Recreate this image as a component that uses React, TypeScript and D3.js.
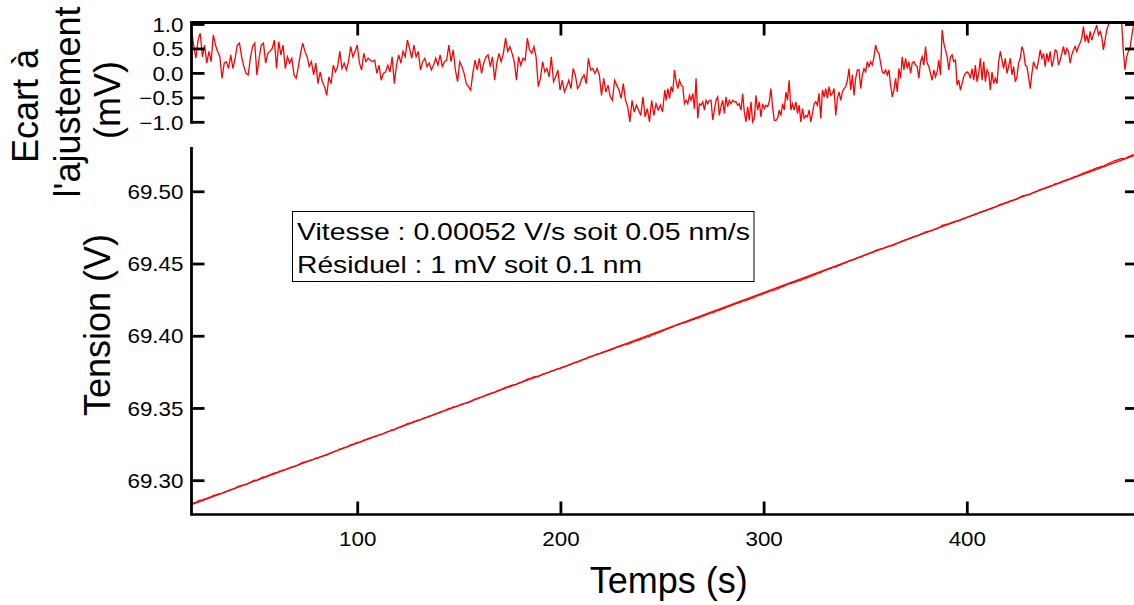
import React from 'react';
import * as d3 from 'd3';

// Residual (mV), first half of the record, uniformly sampled between segA times
const residualA = [
  0.89, 0.58, 0.31, 0.68, 0.82, 0.34, 0.58, 0.21, 0.45, 0.24, 0.79, 0.58, 0.45, 0.34, -0.10, 0.21,
  0.24, 0.10, 0.38, 0.10, 0.31, 0.58, 0.62, 0.34, 0.14, 0.00, -0.03, 0.31, 0.55, 0.62, -0.03, 0.31,
  0.58, 0.62, 0.21, 0.41, 0.45, 0.51, 0.68, 0.10, 0.65, 0.38, 0.58, 0.10, 0.34, 0.21, 0.31, -0.03,
  -0.10, 0.14, 0.41, 0.62, 0.45, 0.34, 0.14, 0.24, -0.03, 0.21, -0.21, 0.03, -0.17, -0.27, -0.45, -0.07,
  -0.21, 0.17, 0.03, 0.14, 0.45, 0.10, 0.21, 0.07, 0.24, 0.55, 0.34, 0.45, 0.58, 0.21, 0.07, 0.41,
  0.24, 0.31, 0.27, 0.24, 0.27, 0.00, 0.17, -0.14, 0.00, 0.03, 0.17, 0.03, 0.34, -0.21, 0.17, 0.38,
  0.21, 0.45, 0.34, 0.68, 0.51, 0.31, 0.58, 0.34, 0.45, 0.07, 0.24, 0.31, 0.14, 0.21, 0.07, 0.17,
  0.31, 0.17, 0.38, 0.14, 0.24, 0.27, 0.58, 0.24, 0.48, 0.07, -0.17, 0.24, 0.14, 0.00, -0.21, -0.27,
  -0.34, 0.00, 0.27, 0.07, 0.31, 0.00, 0.21, 0.34, 0.38, 0.14, 0.34, -0.14, 0.21, 0.41, 0.24, 0.41,
  0.72, 0.45, 0.55, 0.41, 0.24, -0.14, 0.34, 0.17, 0.31, 0.27, 0.72, 0.48, 0.41, 0.55, 0.34, -0.27,
  -0.10, 0.24, 0.03, 0.10, -0.07, 0.34, -0.17, -0.07, 0.07, -0.34, -0.14, -0.38, -0.27, -0.14, -0.31, 0.10,
  -0.03, -0.31, -0.24, -0.10, -0.03, -0.21, 0.31, 0.07, 0.10, 0.00, 0.10, -0.03, -0.45, -0.10, -0.38, -0.24,
  -0.48, -0.55, -0.14, -0.24, -0.34, -0.51, -0.21, -0.55, -0.68, -0.99, -0.55, -0.79, -0.65, -0.75, -0.86, -0.48,
  -0.89, -0.72, -0.99, -0.55, -0.86, -0.62, -0.75, -0.65, -0.79, -0.34,
];

// Residual (mV), second half of the record, uniformly sampled between segB times
const residualB = [
  -0.55, -0.31, -0.51, -0.27, -0.38, 0.07, -0.17, -0.31, -0.14, -0.24, -0.27, -0.62, -0.55, -0.62, -0.45, -0.55,
  -0.41, -0.72, -0.10, -0.92, -0.62, -0.65, -0.58, -0.75, -0.55, -0.62, -0.55, -0.55, -0.95, -0.75, -0.55, -0.48,
  -0.86, -0.68, -0.55, -0.82, -0.48, -0.68, -0.55, -0.62, -0.55, -0.58, -0.58, -0.65, -0.62, -0.75, -0.41, -0.79,
  -0.99, -0.68, -0.96, -0.58, -0.99, -0.92, -0.45, -0.75, -0.58, -0.89, -0.62, -0.72, -0.65, -0.68, -0.58, -0.31,
  -0.68, -0.96, -0.96, -0.92, -0.75, -0.86, -0.62, -0.75, -0.38, -0.55, -0.14, -0.75, -0.62, -0.75, -0.58, -0.82,
  -0.65, -0.99, -0.72, -0.92, -0.86, -0.89, -0.75, -0.99, -0.82, -0.62, -0.58, -0.65, -0.41, -0.92, -0.34, -0.48,
  -0.31, -0.51, -0.27, -0.45, -0.41, -0.31, -0.86, -0.51, -0.38, -0.55, -0.38, -0.31, -0.27, -0.14, 0.10, -0.34,
  -0.03, -0.45, -0.10, 0.07, 0.07, -0.31, -0.03, 0.10, 0.03, 0.24, 0.14, 0.24, 0.17, 0.34, 0.58, 0.45,
  0.41, 0.21, 0.03, 0.00, 0.07, -0.03, 0.07, -0.24, -0.48, -0.34, -0.10, -0.38, 0.10, -0.10, 0.34, 0.07,
  0.31, 0.10, 0.24, 0.00, 0.21, 0.24, 0.17, 0.14, -0.10, 0.24, 0.34, 0.17, 0.55, 0.21, 0.14, 0.00,
  -0.14, 0.07, -0.07, 0.03, 0.27, -0.03, 0.89, 0.62, 0.48, 0.34, 0.07, 0.34, 0.38, 0.24, 0.27, -0.24,
  -0.14, -0.34, -0.21, -0.07, 0.00, 0.03, 0.00, -0.10, 0.10, -0.14, 0.17, -0.17, 0.00, 0.31, -0.14, 0.24,
  -0.17, 0.07, 0.00, -0.34, 0.03, -0.21, -0.10, -0.21, 0.24, 0.45, 0.27, 0.10, 0.31, 0.00, 0.14, 0.31,
  -0.03, 0.14, -0.17, -0.07, 0.21, 0.31, 0.55, 0.45, 0.17, 0.14, -0.07, -0.31, 0.00, 0.24, 0.14, 0.10,
  0.27, 0.48, 0.31, 0.41, 0.14, 0.41, 0.24, 0.45, 0.14, 0.27, 0.48, 0.45, 0.17, 0.27, 0.41, 0.55,
  0.38, 0.51, 0.45, 0.21, 0.38, 0.48, 0.55, 0.45, 0.55, 0.62, 0.72, 0.96, 0.65, 0.79, 0.62, 0.86,
  0.68, 0.79, 0.89, 0.99, 0.79, 0.86, 0.75, 0.48, 0.68, 0.89, 0.99, 1.06, 1.2, 1.3, 1.3, 1.25,
  1.2, 1.15, 1.03, 0.45, 0.07, 0.34, 0.45, 0.51, 0.75, 0.96,
];

const segA = [18.2, 251.1];
const segB = [251.8, 481.7];

// Linear fit of the voltage (V) vs time (s)
const fitIntercept = 69.274;
const fitSlope = 0.000521;

const xTicks = [100, 200, 300, 400];
const yTicksMain = [69.3, 69.35, 69.4, 69.45, 69.5];
const yTicksRes = [-1.0, -0.5, 0.0, 0.5, 1.0];

const xDomain = [18.2, 484];
const yDomainMain = [69.2766, 69.531];
const yDomainRes = [-1.0, 1.041];

const annotationLines = [
  'Vitesse : 0.00052 V/s soit 0.05 nm/s',
  'Résiduel : 1 mV soit 0.1 nm',
];

const FONT = "'Liberation Sans', Arial, Helvetica, sans-serif";

export default function App() {
  const left = 191.5;
  const right = 1138;
  const resTop = 22.5;
  const resBottom = 122.3;
  const mainTop = 147;
  const mainBottom = 514.5;

  const x = d3.scaleLinear().domain(xDomain).range([left, right]);
  const yRes = d3.scaleLinear().domain(yDomainRes).range([resBottom, resTop]);
  const yMain = d3.scaleLinear().domain(yDomainMain).range([mainBottom, mainTop]);

  const toPoints = (arr: number[], seg: number[]) =>
    arr.map((r, i) => ({ t: seg[0] + (i * (seg[1] - seg[0])) / (arr.length - 1), r }));
  const residual = [...toPoints(residualA, segA), ...toPoints(residualB, segB)];

  const resLine = d3
    .line<{ t: number; r: number }>()
    .x((d) => x(d.t))
    .y((d) => yRes(d.r));
  const dataLine = d3
    .line<{ t: number; r: number }>()
    .x((d) => x(d.t))
    .y((d) => yMain(fitIntercept + fitSlope * d.t + d.r / 1000));
  const fitPts = [xDomain[0], xDomain[1]];
  const fitLine = d3
    .line<number>()
    .x((t) => x(t))
    .y((t) => yMain(fitIntercept + fitSlope * t));

  const tickLen = 13;
  const axisW = 2.8;
  const tickW = 2.8;
  const labelSize = 20;
  const sx = 1.12;

  return (
    <svg
      width={1134}
      height={605}
      style={{ position: 'absolute', left: 0, top: 0, background: '#fff' }}
      fontFamily={FONT}
    >
      <defs>
        <clipPath id="clipRes">
          <rect x={left} y={resTop} width={right - left} height={resBottom - resTop + 3} />
        </clipPath>
        <clipPath id="clipMain">
          <rect x={left} y={mainTop} width={right - left} height={mainBottom - mainTop} />
        </clipPath>
      </defs>

      {/* ---------- residual panel ---------- */}
      <path
        d={resLine(residual) || ''}
        fill="none"
        stroke="#ff0000"
        strokeWidth={1.3}
        clipPath="url(#clipRes)"
      />
      <line x1={left} x2={right} y1={resTop} y2={resTop} stroke="#000" strokeWidth={axisW} />
      <line x1={left} x2={left} y1={resTop - 1.4} y2={resBottom + 1.4} stroke="#000" strokeWidth={axisW} />
      <line x1={right} x2={right} y1={resTop} y2={resBottom} stroke="#000" strokeWidth={axisW} />
      {xTicks.map((t) => (
        <line key={'rt' + t} x1={x(t)} x2={x(t)} y1={resTop} y2={resTop + tickLen} stroke="#000" strokeWidth={tickW} />
      ))}
      {yTicksRes.map((v) => (
        <g key={'ry' + v}>
          <line x1={left} x2={left + tickLen} y1={yRes(v)} y2={yRes(v)} stroke="#000" strokeWidth={tickW} />
          <line x1={right - tickLen} x2={right} y1={yRes(v)} y2={yRes(v)} stroke="#000" strokeWidth={tickW} />
          <text
            transform={`translate(${left - 8},${yRes(v)}) scale(${sx},1)`}
            dy="0.36em"
            textAnchor="end"
            fontSize={labelSize}
            fill="#000"
          >
            {d3.format('.1f')(v)}
          </text>
        </g>
      ))}

      {/* ---------- main panel ---------- */}
      <path
        d={fitLine(fitPts) || ''}
        fill="none"
        stroke="#ff0000"
        strokeWidth={1.3}
        clipPath="url(#clipMain)"
      />
      <path
        d={dataLine(residual) || ''}
        fill="none"
        stroke="#ff0000"
        strokeWidth={1.3}
        clipPath="url(#clipMain)"
      />
      <line x1={left} x2={left} y1={mainTop} y2={mainBottom + 1.2} stroke="#000" strokeWidth={axisW} />
      <line x1={left} x2={right} y1={mainBottom} y2={mainBottom} stroke="#000" strokeWidth={2.4} />
      <line x1={right} x2={right} y1={mainTop} y2={mainBottom} stroke="#000" strokeWidth={axisW} />
      {yTicksMain.map((v) => (
        <g key={'my' + v}>
          <line x1={left} x2={left + tickLen} y1={yMain(v)} y2={yMain(v)} stroke="#000" strokeWidth={tickW} />
          <line x1={right - tickLen} x2={right} y1={yMain(v)} y2={yMain(v)} stroke="#000" strokeWidth={tickW} />
          <text
            transform={`translate(${left - 8},${yMain(v)}) scale(${sx},1)`}
            dy="0.36em"
            textAnchor="end"
            fontSize={labelSize}
            fill="#000"
          >
            {d3.format('.2f')(v)}
          </text>
        </g>
      ))}
      {xTicks.map((t) => (
        <g key={'mx' + t}>
          <line x1={x(t)} x2={x(t)} y1={mainBottom} y2={mainBottom - tickLen} stroke="#000" strokeWidth={tickW} />
          <text
            transform={`translate(${x(t)},546) scale(${sx},1)`}
            textAnchor="middle"
            fontSize={labelSize}
            fill="#000"
          >
            {t}
          </text>
        </g>
      ))}

      {/* ---------- annotation box ---------- */}
      <rect x={292.5} y={211.5} width={461.5} height={70} fill="#fff" stroke="#000" strokeWidth={1} />
      <text x={297} y={240} fontSize={24} fill="#000" textLength={453} lengthAdjust="spacingAndGlyphs">
        {annotationLines[0]}
      </text>
      <text x={297} y={273} fontSize={24} fill="#000" textLength={345} lengthAdjust="spacingAndGlyphs">
        {annotationLines[1]}
      </text>

      {/* ---------- axis titles ---------- */}
      <text x={(left + right) / 2 + 4} y={593} textAnchor="middle" fontSize={36} fill="#000">
        Temps (s)
      </text>
      <text transform="translate(110,325) rotate(-90)" textAnchor="middle" fontSize={36} fill="#000">
        Tension (V)
      </text>
      <text transform="translate(38,106) rotate(-90)" textAnchor="middle" fontSize={36} fill="#000">
        Ecart à
      </text>
      <text transform="translate(80,102) rotate(-90)" textAnchor="middle" fontSize={36} fill="#000">
        l'ajustement
      </text>
      <text transform="translate(120,100) rotate(-90)" textAnchor="middle" fontSize={36} fill="#000">
        (mV)
      </text>
    </svg>
  );
}
